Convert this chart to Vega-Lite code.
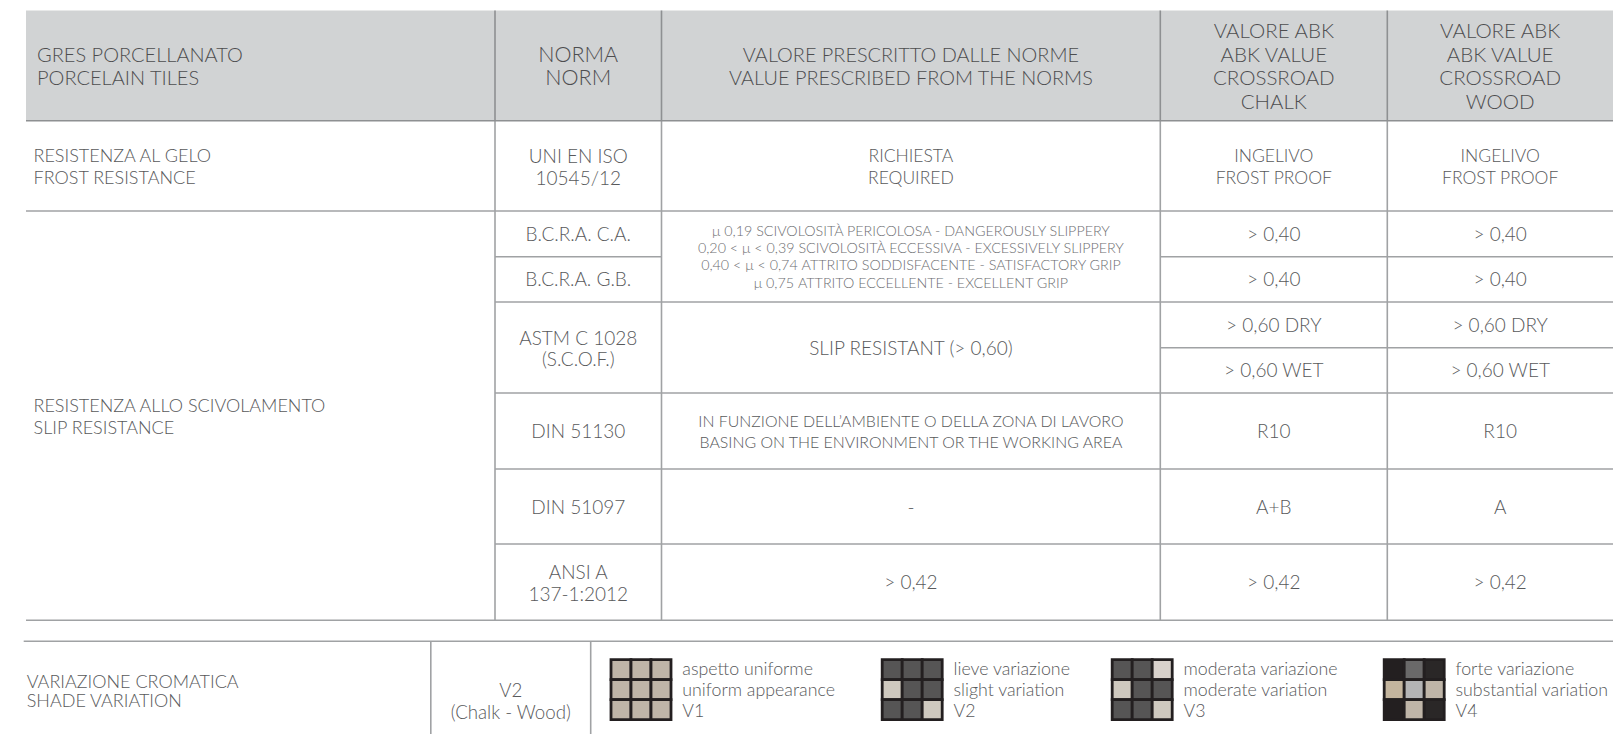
{"$schema":"https://vega.github.io/schema/vega-lite/v6.json","width":1613,"height":734,"padding":0,"autosize":{"type":"none"},"background":"white","config":{"view":{"stroke":null}},
"resolve":{"scale":{"x":"independent","y":"independent"}},
"layer":[
{"encoding":{"x":{"field":"col","type":"quantitative","axis":null,"scale":{"domain":[0,1,2,3,4,5],"range":[26,495,661.5,1160.3,1387.3,1613]}},"y":{"field":"row","type":"quantitative","axis":null,"scale":{"domain":[0,1,2,3,4,5,6,7,8,9],"range":[10.5,120.7,211,256.7,302,347.7,393,469,544,620.3]}}},
"layer":[
{"data":{"values":[{"col":0,"col2":5,"row":0,"row2":1}]},"mark":{"type":"rect","fill":"#D1D3D4"},"encoding":{"x2":{"field":"col2"},"y2":{"field":"row2"}}},
{"data":{"values":[{"col":1,"row":1,"row2":9},{"col":2,"row":1,"row2":9},{"col":3,"row":1,"row2":9},{"col":4,"row":1,"row2":9}]},"mark":{"type":"rule","stroke":"#A0A2A4","strokeWidth":1.6},"encoding":{"y2":{"field":"row2"}}},
{"data":{"values":[{"row":2,"col":0,"col2":5},{"row":3,"col":1,"col2":2},{"row":3,"col":3,"col2":5},{"row":4,"col":1,"col2":5},{"row":5,"col":3,"col2":5},{"row":6,"col":1,"col2":5},{"row":7,"col":1,"col2":5},{"row":8,"col":1,"col2":5},{"row":9,"col":0,"col2":5}]},"mark":{"type":"rule","stroke":"#A0A2A4","strokeWidth":1.6},"encoding":{"x2":{"field":"col2"}}},
{"data":{"values":[{"col":1,"row":0,"row2":1},{"col":2,"row":0,"row2":1},{"col":3,"row":0,"row2":1},{"col":4,"row":0,"row2":1}]},"mark":{"type":"rule","stroke":"#8E9092","strokeWidth":1.6},"encoding":{"y2":{"field":"row2"}}},
{"data":{"values":[{"row":1,"col":0,"col2":5}]},"mark":{"type":"rule","stroke":"#8E9092","strokeWidth":1.6},"encoding":{"x2":{"field":"col2"}}},
{"data":{"values":[{"col":0,"row":0.5,"label":"GRES PORCELLANATO\nPORCELAIN TILES"}]},"mark":{"type":"text","font":"Lato","fontWeight":300,"fontSize":20,"lineHeight":23.7,"lineBreak":"\n","align":"left","baseline":"middle","dx":11,"dy":-9.85,"fill":"#4D4D4F"},"encoding":{"text":{"field":"label"}}},
{"data":{"values":[{"col":1.5,"row":0.5,"label":"NORMA\nNORM"}]},"mark":{"type":"text","font":"Lato","fontWeight":300,"fontSize":21.5,"lineHeight":23.7,"lineBreak":"\n","align":"center","baseline":"middle","dy":-9.85,"fill":"#4D4D4F"},"encoding":{"text":{"field":"label"}}},
{"data":{"values":[{"col":2.5,"row":0.5,"label":"VALORE PRESCRITTO DALLE NORME\nVALUE PRESCRIBED FROM THE NORMS"}]},"mark":{"type":"text","font":"Lato","fontWeight":300,"fontSize":19.9,"lineHeight":23.7,"lineBreak":"\n","align":"center","baseline":"middle","dy":-9.85,"fill":"#4D4D4F"},"encoding":{"text":{"field":"label"}}},
{"data":{"values":[{"col":3.5,"row":0.5,"label":"VALORE ABK\nABK VALUE\nCROSSROAD\nCHALK"},{"col":4.5,"row":0.5,"label":"VALORE ABK\nABK VALUE\nCROSSROAD\nWOOD"}]},"mark":{"type":"text","font":"Lato","fontWeight":300,"fontSize":20.5,"lineHeight":23.7,"lineBreak":"\n","align":"center","baseline":"middle","dy":-33.5,"fill":"#4D4D4F"},"encoding":{"text":{"field":"label"}}},
{"data":{"values":[{"col":0,"row":1.5,"label":"RESISTENZA AL GELO\nFROST RESISTANCE"},{"col":0,"row":6.3,"label":"RESISTENZA ALLO SCIVOLAMENTO\nSLIP RESISTANCE"}]},"mark":{"type":"text","font":"Lato","fontWeight":300,"fontSize":18,"lineHeight":21.5,"lineBreak":"\n","align":"left","baseline":"middle","dx":7.5,"dy":-8.75,"fill":"#58595B"},"encoding":{"text":{"field":"label"}}},
{"data":{"values":[{"col":2.5,"row":1.5,"label":"RICHIESTA\nREQUIRED"},{"col":3.5,"row":1.5,"label":"INGELIVO\nFROST PROOF"},{"col":4.5,"row":1.5,"label":"INGELIVO\nFROST PROOF"}]},"mark":{"type":"text","font":"Lato","fontWeight":300,"fontSize":17.5,"lineHeight":21.5,"lineBreak":"\n","align":"center","baseline":"middle","dy":-8.75,"fill":"#58595B"},"encoding":{"text":{"field":"label"}}},
{"data":{"values":[{"col":1.5,"row":1.5,"label":"UNI EN ISO\n10545/12"},{"col":1.5,"row":5,"label":"ASTM C 1028\n(S.C.O.F.)"},{"col":1.5,"row":8.5,"label":"ANSI A\n137-1:2012"}]},"mark":{"type":"text","font":"Lato","fontWeight":300,"fontSize":19,"lineHeight":21.5,"lineBreak":"\n","align":"center","baseline":"middle","dy":-8.75,"fill":"#58595B"},"encoding":{"text":{"field":"label"}}},
{"data":{"values":[{"col":1.5,"row":2.5,"label":"B.C.R.A. C.A."},{"col":3.5,"row":2.5,"label":"> 0,40"},{"col":4.5,"row":2.5,"label":"> 0,40"},{"col":1.5,"row":3.5,"label":"B.C.R.A. G.B."},{"col":3.5,"row":3.5,"label":"> 0,40"},{"col":4.5,"row":3.5,"label":"> 0,40"},{"col":2.5,"row":5,"label":"SLIP RESISTANT (> 0,60)"},{"col":3.5,"row":4.5,"label":"> 0,60 DRY"},{"col":4.5,"row":4.5,"label":"> 0,60 DRY"},{"col":3.5,"row":5.5,"label":"> 0,60 WET"},{"col":4.5,"row":5.5,"label":"> 0,60 WET"},{"col":1.5,"row":6.5,"label":"DIN 51130"},{"col":3.5,"row":6.5,"label":"R10"},{"col":4.5,"row":6.5,"label":"R10"},{"col":1.5,"row":7.5,"label":"DIN 51097"},{"col":2.5,"row":7.5,"label":"-"},{"col":3.5,"row":7.5,"label":"A+B"},{"col":4.5,"row":7.5,"label":"A"},{"col":2.5,"row":8.5,"label":"> 0,42"},{"col":3.5,"row":8.5,"label":"> 0,42"},{"col":4.5,"row":8.5,"label":"> 0,42"}]},"mark":{"type":"text","font":"Lato","fontWeight":300,"fontSize":19,"align":"center","baseline":"middle","dy":1,"fill":"#58595B"},"encoding":{"text":{"field":"label"}}},
{"data":{"values":[{"col":2.5,"row":3,"label":"μ 0,19 SCIVOLOSITÀ PERICOLOSA - DANGEROUSLY SLIPPERY\n0,20 < μ < 0,39 SCIVOLOSITÀ ECCESSIVA - EXCESSIVELY SLIPPERY\n0,40 < μ  < 0,74 ATTRITO SODDISFACENTE - SATISFACTORY GRIP\nμ 0,75 ATTRITO ECCELLENTE -  EXCELLENT GRIP"}]},"mark":{"type":"text","font":"Lato","fontWeight":300,"fontSize":14.3,"lineHeight":17.3,"lineBreak":"\n","align":"center","baseline":"middle","dy":-25,"fill":"#6D6E71"},"encoding":{"text":{"field":"label"}}},
{"data":{"values":[{"col":2.5,"row":6.5,"label":"IN FUNZIONE DELL’AMBIENTE O DELLA ZONA DI LAVORO\nBASING ON THE ENVIRONMENT OR THE WORKING AREA"}]},"mark":{"type":"text","font":"Lato","fontWeight":300,"fontSize":15.9,"lineHeight":20.5,"lineBreak":"\n","align":"center","baseline":"middle","dy":-8.75,"fill":"#58595B"},"encoding":{"text":{"field":"label"}}}
]},
{"encoding":{"x":{"field":"col","type":"quantitative","axis":null,"scale":{"domain":[0,1,2,3],"range":[23.7,430.8,590.7,1613]}},"y":{"field":"row","type":"quantitative","axis":null,"scale":{"domain":[0,1],"range":[641.3,734]}}},
"layer":[
{"data":{"values":[{"row":0,"col":0,"col2":3}]},"mark":{"type":"rule","stroke":"#A0A2A4","strokeWidth":1.6},"encoding":{"x2":{"field":"col2"}}},
{"data":{"values":[{"col":1,"row":0,"row2":1},{"col":2,"row":0,"row2":1}]},"mark":{"type":"rule","stroke":"#A0A2A4","strokeWidth":1.6},"encoding":{"y2":{"field":"row2"}}},
{"data":{"values":[{"col":0,"row":0.52,"label":"VARIAZIONE CROMATICA\nSHADE VARIATION"}]},"mark":{"type":"text","font":"Lato","fontWeight":300,"fontSize":18,"lineHeight":18.5,"lineBreak":"\n","align":"left","baseline":"middle","dx":3,"dy":-6.25,"fill":"#58595B"},"encoding":{"text":{"field":"label"}}},
{"data":{"values":[{"col":1.5,"row":0.64,"label":"V2\n(Chalk - Wood)"}]},"mark":{"type":"text","font":"Lato","fontWeight":300,"fontSize":18.7,"lineHeight":21.7,"lineBreak":"\n","align":"center","baseline":"middle","dy":-9.3,"fill":"#58595B"},"encoding":{"text":{"field":"label"}}}
]},
{"encoding":{"x":{"field":"tileCol","type":"quantitative","axis":null,"scale":{"domain":[0,3,4,7,8,11,12,15],"range":[611,671,882.2,942.2,1112.2,1172.2,1384.2,1444.2]}},"y":{"field":"tileRow","type":"quantitative","axis":null,"scale":{"domain":[0,3],"range":[659.7,719.7]}}},
"layer":[
{"data":{"values":[
{"tileCol":0,"tileCol2":1,"tileRow":0,"tileRow2":1,"tone":"beige"},{"tileCol":1,"tileCol2":2,"tileRow":0,"tileRow2":1,"tone":"beige"},{"tileCol":2,"tileCol2":3,"tileRow":0,"tileRow2":1,"tone":"beige"},
{"tileCol":0,"tileCol2":1,"tileRow":1,"tileRow2":2,"tone":"beige"},{"tileCol":1,"tileCol2":2,"tileRow":1,"tileRow2":2,"tone":"beige"},{"tileCol":2,"tileCol2":3,"tileRow":1,"tileRow2":2,"tone":"beige"},
{"tileCol":0,"tileCol2":1,"tileRow":2,"tileRow2":3,"tone":"beige"},{"tileCol":1,"tileCol2":2,"tileRow":2,"tileRow2":3,"tone":"beige"},{"tileCol":2,"tileCol2":3,"tileRow":2,"tileRow2":3,"tone":"beige"},
{"tileCol":4,"tileCol2":5,"tileRow":0,"tileRow2":1,"tone":"dark"},{"tileCol":5,"tileCol2":6,"tileRow":0,"tileRow2":1,"tone":"dark"},{"tileCol":6,"tileCol2":7,"tileRow":0,"tileRow2":1,"tone":"dark"},
{"tileCol":4,"tileCol2":5,"tileRow":1,"tileRow2":2,"tone":"light"},{"tileCol":5,"tileCol2":6,"tileRow":1,"tileRow2":2,"tone":"dark"},{"tileCol":6,"tileCol2":7,"tileRow":1,"tileRow2":2,"tone":"dark"},
{"tileCol":4,"tileCol2":5,"tileRow":2,"tileRow2":3,"tone":"dark"},{"tileCol":5,"tileCol2":6,"tileRow":2,"tileRow2":3,"tone":"dark"},{"tileCol":6,"tileCol2":7,"tileRow":2,"tileRow2":3,"tone":"light"},
{"tileCol":8,"tileCol2":9,"tileRow":0,"tileRow2":1,"tone":"dark"},{"tileCol":9,"tileCol2":10,"tileRow":0,"tileRow2":1,"tone":"dark"},{"tileCol":10,"tileCol2":11,"tileRow":0,"tileRow2":1,"tone":"pale"},
{"tileCol":8,"tileCol2":9,"tileRow":1,"tileRow2":2,"tone":"light"},{"tileCol":9,"tileCol2":10,"tileRow":1,"tileRow2":2,"tone":"dark"},{"tileCol":10,"tileCol2":11,"tileRow":1,"tileRow2":2,"tone":"dark"},
{"tileCol":8,"tileCol2":9,"tileRow":2,"tileRow2":3,"tone":"dark"},{"tileCol":9,"tileCol2":10,"tileRow":2,"tileRow2":3,"tone":"dark"},{"tileCol":10,"tileCol2":11,"tileRow":2,"tileRow2":3,"tone":"light"},
{"tileCol":12,"tileCol2":13,"tileRow":0,"tileRow2":1,"tone":"black"},{"tileCol":13,"tileCol2":14,"tileRow":0,"tileRow2":1,"tone":"graphite"},{"tileCol":14,"tileCol2":15,"tileRow":0,"tileRow2":1,"tone":"charcoal"},
{"tileCol":12,"tileCol2":13,"tileRow":1,"tileRow2":2,"tone":"sand"},{"tileCol":13,"tileCol2":14,"tileRow":1,"tileRow2":2,"tone":"silver"},{"tileCol":14,"tileCol2":15,"tileRow":1,"tileRow2":2,"tone":"beige"},
{"tileCol":12,"tileCol2":13,"tileRow":2,"tileRow2":3,"tone":"black"},{"tileCol":13,"tileCol2":14,"tileRow":2,"tileRow2":3,"tone":"beige"},{"tileCol":14,"tileCol2":15,"tileRow":2,"tileRow2":3,"tone":"charcoal"}
]},"mark":{"type":"rect","stroke":"#231F20","strokeWidth":2.8},"encoding":{"x2":{"field":"tileCol2"},"y2":{"field":"tileRow2"},"fill":{"field":"tone","type":"nominal","legend":null,"scale":{"domain":["beige","dark","light","pale","black","charcoal","graphite","sand","silver"],"range":["#BFB5A8","#565555","#CFC9BF","#D8D1CB","#231F20","#2A2727","#6A6969","#C4B59E","#B4B4B5"]}}}},
{"data":{"values":[{"tileCol":3,"tileRow":1.5,"label":"aspetto uniforme\nuniform appearance\nV1"},{"tileCol":7,"tileRow":1.5,"label":"lieve variazione\nslight variation\nV2"},{"tileCol":11,"tileRow":1.5,"label":"moderata variazione\nmoderate variation\nV3"},{"tileCol":15,"tileRow":1.5,"label":"forte variazione\nsubstantial variation\nV4"}]},"mark":{"type":"text","font":"Lato","fontWeight":300,"fontSize":17.8,"lineHeight":20.8,"lineBreak":"\n","align":"left","baseline":"middle","dx":11.3,"dy":-19.3,"fill":"#58595B"},"encoding":{"text":{"field":"label"}}}
]}
]}
